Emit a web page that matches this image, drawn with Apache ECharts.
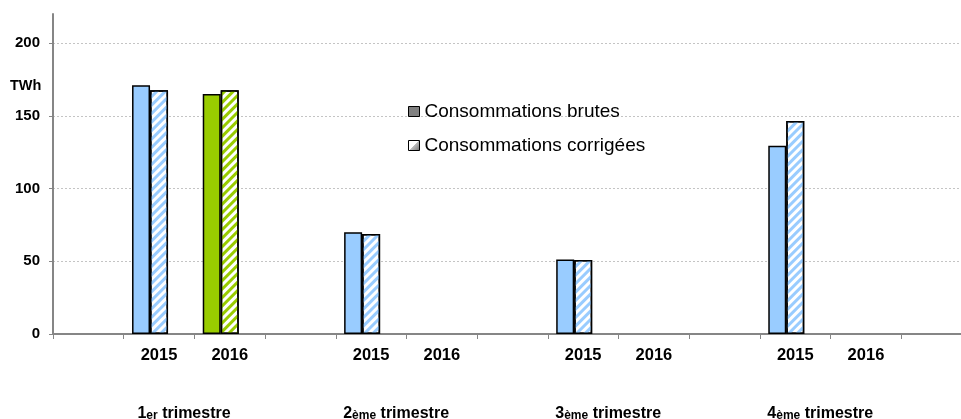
<!DOCTYPE html>
<html>
<head>
<meta charset="utf-8">
<script src="https://cdn.jsdelivr.net/npm/echarts@6/dist/echarts.min.js"></script>
<style>
html,body{margin:0;padding:0;background:#fff;overflow:hidden;}
#chart{width:961px;height:419px;}
</style>
</head>
<body>
<div id="chart"></div>
<script>
// Categories along the x axis (empty slots separate the quarters)
const categories = ['', '2015', '2016', '', '2015', '2016', '', '2015', '2016', '', '2015', '2016', ''];
// Raw consumption (TWh)
const brutes = [null, 171, 165, null, 70, null, null, 51.2, null, null, 129.4, null, null];
// Corrected consumption (TWh)
const corrigees = [null, 167.5, 167.5, null, 68.7, null, null, 50.8, null, null, 146.4, null, null];
// Quarter labels (shown under the 2015 slot of each quarter)
const quarterNum = ['1', '2', '3', '4'];
const quarterSup = ['er', 'ème', 'ème', 'ème'];
const quarterWord = ' trimestre';
const quarterSlots = [1, 4, 7, 10];
const yTicks = [0, 50, 100, 150, 200];
const seriesNames = ['Consommations brutes', 'Consommations corrigées'];
const yearColors = {'2015': '#99CCFF', '2016': '#99CC00'};

const FONT = '"Liberation Sans", Arial, sans-serif';

function solidData() {
  return brutes.map((v, i) => v == null ? null : {
    value: v,
    itemStyle: {color: yearColors[categories[i]]}
  });
}
function hatchData() {
  return corrigees.map((v, i) => v == null ? null : {
    value: v,
    itemStyle: {
      color: '#ffffff',
      decal: {
        symbol: 'rect',
        symbolSize: 1,
        dashArrayX: [1, 0],
        dashArrayY: [3, 3],
        rotation: -Math.PI / 4,
        color: yearColors[categories[i]]
      }
    }
  });
}

const chart = echarts.init(document.getElementById('chart'), null, {renderer: 'canvas'});
chart.setOption({
  animation: false,
  backgroundColor: '#ffffff',
  grid: {left: 53, top: 14, width: 919, height: 320, containLabel: false, outerBoundsMode: 'none'},
  legend: {
    orient: 'vertical',
    left: 403,
    top: 97,
    itemGap: 15,
    itemWidth: 11,
    itemHeight: 10,
    selectedMode: false,
    textStyle: {fontFamily: FONT, fontSize: 19, color: '#000'},
    data: [
      {name: seriesNames[0], icon: 'rect', itemStyle: {color: '#808080', borderColor: '#000', borderWidth: 1, decal: 'none'}},
      {name: seriesNames[1], icon: 'rect', itemStyle: {
        color: new echarts.graphic.LinearGradient(0, 0, 1, 1, [
          {offset: 0, color: '#ffffff'}, {offset: 0.5, color: '#ffffff'},
          {offset: 0.5, color: '#c0c0c0'}, {offset: 1, color: '#707070'}
        ]), borderColor: '#000', borderWidth: 1, decal: 'none'}}
    ]
  },
  xAxis: [
    {
      type: 'category',
      data: categories,
      axisLine: {lineStyle: {color: '#868686', width: 2}},
      axisTick: {show: true, length: 5, lineStyle: {color: '#868686', width: 1}},
      axisLabel: {margin: 13, fontFamily: FONT, fontSize: 16.5, fontWeight: 'bold', color: '#000', interval: 0}
    },
    {
      type: 'category',
      position: 'bottom',
      data: categories,
      axisLine: {show: false},
      axisTick: {show: false},
      axisLabel: {
        margin: 70,
        interval: 0,
        padding: [0, 0, 0, 50],
        formatter: function (val, idx) {
          const q = quarterSlots.indexOf(idx);
          if (q < 0) return '';
          return '{n|' + quarterNum[q] + '}{s|' + quarterSup[q] + '}{n|' + quarterWord + '}';
        },
        rich: {
          n: {fontFamily: FONT, fontSize: 16, fontWeight: 'bold', color: '#000', lineHeight: 18, verticalAlign: 'bottom'},
          s: {fontFamily: FONT, fontSize: 12, fontWeight: 'bold', color: '#000', lineHeight: 18, verticalAlign: 'bottom'}
        }
      }
    }
  ],
  yAxis: {
    type: 'value',
    min: 0,
    max: 220,
    interval: 50,
    axisLine: {show: true, lineStyle: {color: '#868686', width: 2}},
    axisTick: {show: true, length: 4, lineStyle: {color: '#868686'}},
    axisLabel: {
      showMaxLabel: false, margin: 13, fontFamily: FONT, fontSize: 15, fontWeight: 'bold', color: '#000',
      formatter: v => (yTicks.indexOf(v) >= 0 ? String(v) : '')
    },
    splitLine: {show: true, showMaxLine: false, lineStyle: {color: '#c4c4c4', type: [2, 2], width: 1}}
  },
  graphic: [
    {type: 'text', left: 10, top: 78, style: {text: 'TWh', font: 'bold 14.5px ' + FONT, fill: '#000'}}
  ],
  series: [
    {
      name: seriesNames[0], type: 'bar', barWidth: 18, barGap: 0,
      itemStyle: {color: '#808080', borderColor: '#000', borderWidth: 1.5},
      data: solidData()
    },
    {
      name: seriesNames[1], type: 'bar', barWidth: 18, barGap: 0,
      itemStyle: {color: '#ffffff', borderColor: '#000', borderWidth: 1.5},
      data: hatchData()
    },
    {
      name: 'vide', type: 'bar', barWidth: 18, barGap: 0,
      data: categories.map(() => null)
    }
  ]
});
</script>
</body>
</html>
